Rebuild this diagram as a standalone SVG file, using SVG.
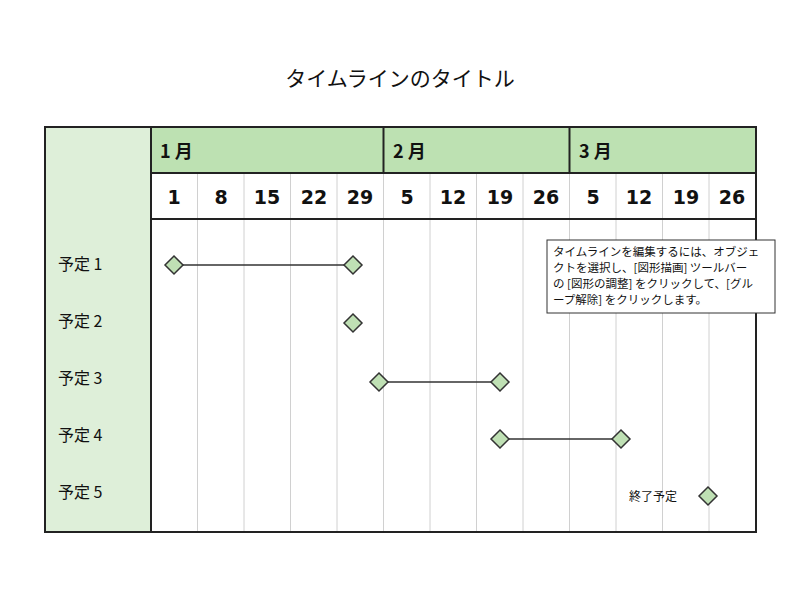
<svg xmlns="http://www.w3.org/2000/svg" width="800" height="600" viewBox="0 0 800 600">
<style>
text{font-family:"Noto Sans CJK JP","DejaVu Sans",sans-serif;fill:#111}
.m{font-size:18px;font-weight:bold}
.d{font-size:19px;font-weight:bold;text-anchor:middle;font-family:"DejaVu Sans","Noto Sans CJK JP",sans-serif}
.l{font-size:16px}
.g{stroke:#d0d0d0;stroke-width:1}
.dm{fill:#bfe0b4;stroke:#333;stroke-width:1.5}
.c{stroke:#333;stroke-width:1.5}
</style>
<rect width="800" height="600" fill="#fff"/>
<text x="400" y="86" font-size="21" text-anchor="middle">タイムラインのタイトル</text>
<g id="frame">
<rect x="45" y="127" width="106" height="405" fill="#deefd9"/>
<rect x="151" y="127" width="605" height="46" fill="#bde1b2"/>
<g class="g">
<line x1="197.5" y1="173" x2="197.5" y2="532"/><line x1="244" y1="173" x2="244" y2="532"/><line x1="290.5" y1="173" x2="290.5" y2="532"/><line x1="337" y1="173" x2="337" y2="532"/><line x1="430" y1="173" x2="430" y2="532"/><line x1="476.5" y1="173" x2="476.5" y2="532"/><line x1="523" y1="173" x2="523" y2="532"/><line x1="616" y1="173" x2="616" y2="532"/><line x1="662.5" y1="173" x2="662.5" y2="532"/><line x1="709" y1="173" x2="709" y2="532"/>
<line x1="383.5" y1="173" x2="383.5" y2="532"/><line x1="569.5" y1="173" x2="569.5" y2="532"/>
</g>
<g stroke="#222" stroke-width="2" fill="none">
<rect x="45" y="127" width="711" height="405"/>
<line x1="151" y1="127" x2="151" y2="532"/>
<line x1="151" y1="173" x2="756" y2="173"/>
<line x1="151" y1="219" x2="756" y2="219"/>
<line x1="383.5" y1="127" x2="383.5" y2="173"/>
<line x1="569.5" y1="127" x2="569.5" y2="173"/>
</g>
<text class="m" x="160" y="158">1 月</text>
<text class="m" x="393" y="158">2 月</text>
<text class="m" x="579" y="158">3 月</text>
<g>
<text class="d" x="174" y="204">1</text><text class="d" x="221" y="204">8</text><text class="d" x="267" y="204">15</text><text class="d" x="314" y="204">22</text><text class="d" x="360" y="204">29</text><text class="d" x="407" y="204">5</text><text class="d" x="453" y="204">12</text><text class="d" x="500" y="204">19</text><text class="d" x="546" y="204">26</text><text class="d" x="593" y="204">5</text><text class="d" x="639" y="204">12</text><text class="d" x="686" y="204">19</text><text class="d" x="732" y="204">26</text>
</g>
</g>
<g id="labels">
<text class="l" x="58" y="270">予定 1</text>
<text class="l" x="58" y="327">予定 2</text>
<text class="l" x="58" y="384">予定 3</text>
<text class="l" x="58" y="441">予定 4</text>
<text class="l" x="58" y="498">予定 5</text>
</g>
<g id="connectors">
<line class="c" x1="174" y1="265" x2="353" y2="265"/>
<line class="c" x1="379" y1="382" x2="500" y2="382"/>
<line class="c" x1="500" y1="439" x2="621" y2="439"/>
</g>
<g id="milestones">
<path class="dm" d="M174 256l9 9-9 9-9-9z"/>
<path class="dm" d="M353 256l9 9-9 9-9-9z"/>
<path class="dm" d="M353 314l9 9-9 9-9-9z"/>
<path class="dm" d="M379 373l9 9-9 9-9-9z"/>
<path class="dm" d="M500 373l9 9-9 9-9-9z"/>
<path class="dm" d="M500 430l9 9-9 9-9-9z"/>
<path class="dm" d="M621 430l9 9-9 9-9-9z"/>
<path class="dm" d="M708 487l9 9-9 9-9-9z"/>
<text x="629" y="501" font-size="12">終了予定</text>
</g>
<g id="note">
<rect x="547" y="240" width="228" height="73" fill="#fff" stroke="#333" stroke-width="1"/>
<text font-size="11.5"><tspan x="553" y="256">タイムラインを編集するには、オブジェ</tspan><tspan x="553" y="272">クトを選択し、[図形描画] ツールバー</tspan><tspan x="553" y="288">の [図形の調整] をクリックして、[グル</tspan><tspan x="553" y="304">ープ解除] をクリックします。</tspan></text>
</g>
</svg>
